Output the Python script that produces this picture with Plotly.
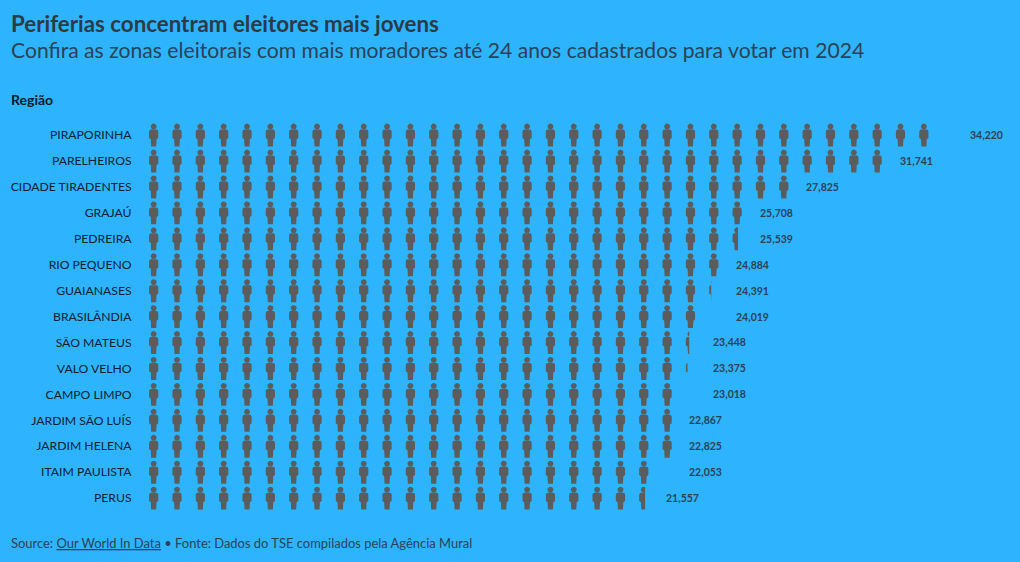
import math
import plotly.graph_objects as go

regions = ["PIRAPORINHA", "PARELHEIROS", "CIDADE TIRADENTES", "GRAJAÚ", "PEDREIRA",
           "RIO PEQUENO", "GUAIANASES", "BRASILÂNDIA", "SÃO MATEUS", "VALO VELHO",
           "CAMPO LIMPO", "JARDIM SÃO LUÍS", "JARDIM HELENA", "ITAIM PAULISTA", "PERUS"]
voters = [34220, 31741, 27825, 25708, 25539, 24884, 24391, 24019, 23448, 23375,
          23018, 22867, 22825, 22053, 21557]

UNIT = 1000          # one figure = 1000 voters
PX_X = 23.33         # pixels per unit
PX_Y = 26.0          # pixels per row
BG = "#2EB4FF"
ICON = "#5C5C5C"
FONT = "Lato"
DARK = "#2B3A47"
TEXT = "#2A4257"

LEFT, TOP = 142.33, 121.5
BOTTOM = TOP + PX_Y * len(regions)
W, H = 1020, 562

def body_outline():
    # person silhouette in pixels, relative to the cell centre
    return [(-2.5, 11.6), (-2.9, 4.2), (-4.6, 3.0), (-4.6, -3.8), (-3.4, -5.4), (3.4, -5.4),
            (4.6, -3.8), (4.6, 3.0), (2.9, 4.2), (2.5, 11.6)]

def head_outline():
    return [(3.0 * math.cos(2 * math.pi * t / 16), -8.4 + 3.0 * math.sin(2 * math.pi * t / 16))
            for t in range(16)]

def clip_right(poly, limit):
    out = []
    for i, (x1, y1) in enumerate(poly):
        x2, y2 = poly[(i + 1) % len(poly)]
        if x1 <= limit:
            out.append((x1, y1))
        if (x1 <= limit) != (x2 <= limit):
            t = (limit - x1) / (x2 - x1)
            out.append((limit, y1 + t * (y2 - y1)))
    return out

xs, ys = [], []
for row, value in enumerate(voters):
    for col in range(math.ceil(value / UNIT)):
        cx = col + 0.5
        for outline in (body_outline(), head_outline()):
            poly = [(cx + px / PX_X, row + py / PX_Y) for px, py in outline]
            poly = clip_right(poly, value / UNIT)
            if len(poly) < 3:
                continue
            xs += [p[0] * UNIT for p in poly] + [poly[0][0] * UNIT, None]
            ys += [p[1] for p in poly] + [poly[0][1], None]

fig = go.Figure(go.Scatter(x=xs, y=ys, mode="lines", fill="toself", fillcolor=ICON,
                           line=dict(width=0, color=ICON), hoverinfo="skip", showlegend=False))

ann = []
for row, value in enumerate(voters):
    ann.append(dict(x=math.ceil(value / UNIT) * UNIT, y=row, xref="x", yref="y", xanchor="left",
                    yanchor="middle", xshift=8.7, showarrow=False, text=f"<b>{value:,}</b>",
                    font=dict(family=FONT, size=10.5, color=TEXT)))

def label(x, y, text, size, color):
    ann.append(dict(x=(x - LEFT) / (W - LEFT), y=(BOTTOM - y) / (BOTTOM - TOP), xref="paper", yref="paper",
                    xanchor="left", yanchor="middle", showarrow=False, text=text,
                    font=dict(family=FONT, size=size, color=color)))

label(9, 23, "<b>Periferias concentram eleitores mais jovens</b>", 22.3, DARK)
label(9, 49.5, "Confira as zonas eleitorais com mais moradores até 24 anos cadastrados para votar em 2024", 21.15, TEXT)
label(9, 99, "<b>Região</b>", 14, "#0B1B2B")
label(9, 544, "Source: <u>Our World In Data</u> • Fonte: Dados do TSE compilados pela Agência Mural", 12.95, TEXT)

fig.update_layout(
    width=W, height=H, autosize=False,
    margin=dict(l=LEFT, r=0, t=TOP, b=H - BOTTOM, pad=0),
    paper_bgcolor=BG, plot_bgcolor=BG,
    annotations=ann,
    xaxis=dict(range=[0, (W - LEFT) / PX_X * UNIT], visible=False, fixedrange=True),
    yaxis=dict(range=[len(regions) - 0.5, -0.5], tickmode="array", tickvals=list(range(len(regions))),
               ticktext=regions, showgrid=False, zeroline=False, showline=False, ticks="outside",
               ticklen=7, tickcolor=BG, tickfont=dict(family=FONT, size=12.2, color="#0B2238"),
               fixedrange=True),
)
fig.write_html("out.html", config={"displayModeBar": False},
               post_script="document.body.style.margin='0';")
